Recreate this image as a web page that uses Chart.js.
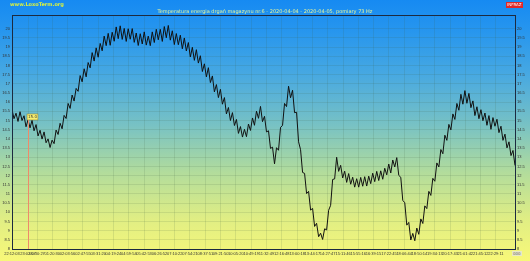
<!DOCTYPE html>
<html>
<head>
<meta charset="utf-8">
<script src="https://cdn.jsdelivr.net/npm/chart.js@4.4.1/dist/chart.umd.min.js"></script>
<style>
  html, body { margin: 0; padding: 0; }
  body {
    width: 530px; height: 261px; overflow: hidden; position: relative;
    background: linear-gradient(to bottom, #168af2 0%, #2796ee 12%, #46a8e2 28%, #78c2c4 48%, #b2dc9c 66%, #e0ee84 84%, #f8f878 100%);
    font-family: "DejaVu Sans", sans-serif;
  }
  #wrap { position: absolute; left: 0; top: 0; width: 530px; height: 261px; }
  .txt { position: absolute; white-space: nowrap; }
  #site { left: 10px; top: 1px; font-size: 5px; font-weight: bold; color: #d8f040; }
  #title { left: 0; width: 530px; text-align: center; top: 8px; font-size: 5px; color: #e6f49a; }
  #badge { left: 506px; top: 2px; font-size: 4px; color: #fff; background: #e02828; padding: 0 1px; line-height: 6px; }
  #corner { left: 512px; top: 251px; font-size: 4px; color: #666; background: #e8e8c8; padding: 0 1px; line-height: 5px; }
</style>
</head>
<body>
<div id="wrap"><canvas id="c" width="530" height="261"></canvas></div>
<div class="txt" id="site">www.LoxoTerm.org</div>
<div class="txt" id="title">Temperatura energia drgań magazynu nr.6 - 2020-04-04 - 2020-04-05, pomiary 73 Hz</div>
<div class="txt" id="badge">INFRAZ</div>
<div class="txt" id="corner">000</div>
<script>
// tick labels of the time axis and the sample index where each one sits
const xLabels = ["22:12:03","23:02:57","00:30:27","01:20:30","02:03:56","02:47:55","03:31:20","04:19:24","04:59:54",
  "05:42:53","06:26:52","07:10:22","07:54:21","08:37:51","09:21:50","10:05:20","10:49:19","11:32:49","12:16:48",
  "13:00:18","13:44:17","14:27:47","15:11:46","15:55:16","16:39:15","17:22:45","18:06:44","18:50:14","19:34:13",
  "20:17:43","21:01:42","21:45:12","22:29:11"];
const xLabelIndex = [0,8.0,12.5,20.1,27.7,35.4,43.0,50.6,58.3,65.9,73.6,81.2,88.8,96.5,104.1,111.7,119.4,127.0,
  134.6,142.3,149.9,157.5,165.2,172.8,180.4,188.1,195.7,203.3,211.0,218.6,226.2,233.9,241.5];

// measured values (one sample per index)
const values = [
  15.60,15.10,15.40,14.95,15.48,15.00,15.26,14.66,15.03,14.60,
  15.01,14.44,14.78,14.16,14.47,13.99,14.38,13.79,14.00,13.53,
  13.93,13.74,14.48,14.24,14.85,14.55,15.28,15.11,15.93,15.66,
  16.39,16.06,16.75,16.59,17.45,17.11,17.82,17.38,18.16,17.87,
  18.70,18.24,18.96,18.45,19.20,18.80,19.60,19.08,19.75,19.10,
  19.81,19.32,20.10,19.46,20.16,19.42,20.02,19.31,20.00,19.43,
  20.01,19.26,19.77,19.09,19.73,19.17,19.83,19.11,19.60,19.08,
  19.83,19.25,19.97,19.40,19.97,19.31,20.12,19.51,20.18,19.38,
  19.89,19.14,19.74,19.13,19.65,18.91,19.50,18.79,19.25,18.46,
  18.99,18.28,18.86,18.13,18.53,17.67,18.09,17.38,17.88,17.07,
  17.43,16.56,16.96,16.25,16.70,15.89,16.25,15.36,15.71,15.00,
  15.43,14.73,15.06,14.30,14.67,14.10,14.52,14.12,14.81,14.46,
  15.14,14.74,15.51,15.12,15.77,14.94,15.23,14.38,14.44,13.48,
  13.55,12.64,13.52,13.38,14.63,14.73,15.93,15.76,16.87,16.24,
  16.65,15.43,15.45,13.84,13.41,12.17,12.12,11.02,11.14,10.12,
  10.21,9.23,9.40,8.67,8.86,8.52,9.10,9.04,10.11,10.38,
  11.79,11.82,13.00,12.23,12.56,11.87,12.24,11.63,12.11,11.53,
  11.91,11.37,11.83,11.37,11.90,11.42,11.94,11.43,11.97,11.56,
  12.13,11.67,12.23,11.73,12.26,11.80,12.40,12.04,12.63,12.14,
  12.85,12.47,12.98,12.01,11.91,10.65,10.52,9.30,9.45,8.49,
  8.85,8.45,9.14,8.80,9.64,9.39,10.35,10.20,11.14,10.92,
  11.85,11.69,12.69,12.47,13.42,13.19,14.20,13.92,14.79,14.49,
  15.36,15.06,15.93,15.56,16.43,15.89,16.63,15.94,16.48,15.70,
  16.07,15.27,15.75,15.10,15.59,14.99,15.41,14.74,15.27,14.52,
  15.16,14.69,15.07,14.34,14.69,13.92,14.26,13.51,13.84,13.09,
  13.37,12.55
];
const yMin = 8, yMax = 20.75, yStep = 0.5, yTop = 20.5;
const markerIndex = 8;

const points = values.map((v, i) => ({ x: i, y: v }));

const framePlugin = {
  id: 'frame',
  afterDatasetsDraw(chart) {
    const { ctx, chartArea: a, scales } = chart;
    const mx = scales.x.getPixelForValue(markerIndex);
    const mv = values[markerIndex];
    const my = scales.y.getPixelForValue(mv);
    ctx.save();
    ctx.strokeStyle = '#ee8a6a';
    ctx.lineWidth = 1;
    ctx.beginPath();
    ctx.moveTo(Math.round(mx) + 0.5, my);
    ctx.lineTo(Math.round(mx) + 0.5, a.bottom);
    ctx.stroke();
    ctx.font = '4px "DejaVu Sans"';
    const t = mv.toFixed(1);
    const w = ctx.measureText(t).width + 2;
    ctx.fillStyle = '#f8f070';
    ctx.fillRect(mx - 1, my - 6, w, 6);
    ctx.strokeStyle = '#8a7a30';
    ctx.lineWidth = 0.5;
    ctx.strokeRect(mx - 1, my - 6, w, 6);
    ctx.fillStyle = '#333';
    ctx.textBaseline = 'middle';
    ctx.fillText(t, mx, my - 3);
    ctx.strokeStyle = '#1c2a40';
    ctx.lineWidth = 1;
    ctx.strokeRect(a.left + 0.5, a.top + 0.5, a.right - a.left, a.bottom - a.top);
    ctx.restore();
  }
};

const tickFont = { size: 4, family: '"Liberation Sans Narrow", "Liberation Sans", sans-serif' };
const gridColor = 'rgba(60,90,60,0.13)';
const fmt = v => String(Math.round(v * 10) / 10);

new Chart(document.getElementById('c'), {
  type: 'line',
  data: {
    datasets: [{
      data: points,
      borderColor: '#111',
      borderWidth: 1,
      pointRadius: 0,
      tension: 0,
      fill: false
    }]
  },
  options: {
    responsive: false,
    animation: false,
    events: [],
    layout: { padding: { top: 15, left: 0, right: 0, bottom: 0 } },
    plugins: { legend: { display: false }, tooltip: { enabled: false } },
    scales: {
      x: {
        type: 'linear',
        min: 0,
        max: values.length - 1,
        afterBuildTicks(s) { s.ticks = xLabelIndex.map(v => ({ value: v })); },
        afterFit(s) { s.height = 12; },
        ticks: {
          autoSkip: false, maxRotation: 0, padding: 2,
          font: tickFont, color: '#333',
          callback: (v, i) => xLabels[i]
        },
        grid: { color: gridColor, drawTicks: false },
        border: { color: '#1c2a40' }
      },
      y: {
        type: 'linear', position: 'left',
        min: yMin, max: yMax,
        afterBuildTicks(s) { s.ticks = s.ticks.filter(t => t.value <= yTop + 1e-9); },
        afterFit(s) { s.width = 12; },
        ticks: { stepSize: yStep, padding: 2, font: tickFont, color: '#333', callback: fmt },
        grid: { color: gridColor, drawTicks: false },
        border: { color: '#1c2a40' }
      },
      y2: {
        type: 'linear', position: 'right',
        min: yMin, max: yMax,
        afterBuildTicks(s) { s.ticks = s.ticks.filter(t => t.value <= yTop + 1e-9); },
        afterFit(s) { s.width = 15; },
        ticks: { stepSize: yStep, padding: 2, font: tickFont, color: '#333', callback: fmt },
        grid: { display: false, drawTicks: false },
        border: { color: '#1c2a40' }
      }
    }
  },
  plugins: [framePlugin]
});
</script>
</body>
</html>
